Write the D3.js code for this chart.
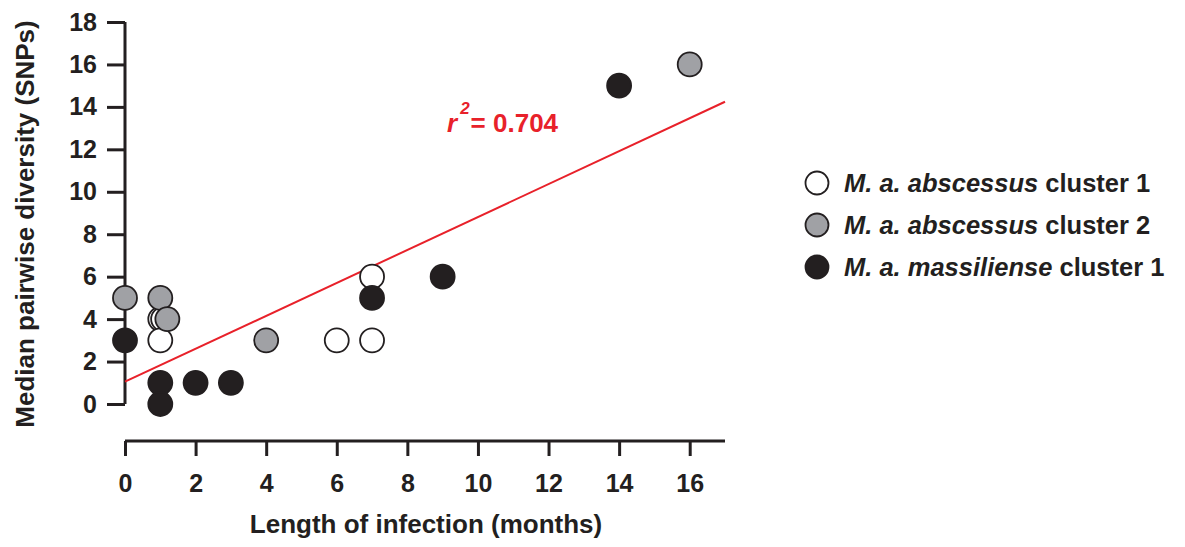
<!DOCTYPE html>
<html lang="en">
<head>
<meta charset="UTF-8">
<title>Median pairwise diversity vs length of infection</title>
<script src="https://d3js.org/d3.v7.min.js"></script>
<style>
    body { margin: 0; background: #fff; }
    svg { display: block; font-family: "Liberation Sans", Arial, sans-serif; }
    .axis path, .axis line { stroke: #231f20; stroke-width: 3px; }
    .axis text { font-size: 25px; font-weight: bold; fill: #231f20; }
    .title { font-size: 26px; font-weight: bold; fill: #231f20; }
    .legend text { font-size: 25.5px; font-weight: bold; fill: #231f20; }
</style>
</head>
<body>
<svg id="chart" width="1185" height="547"></svg>
<script>
    // data
    const cluster1 = [[1, 4], [1.08, 4], [1, 3], [6, 3], [7, 3], [7, 6]];
    const cluster2 = [[0, 5], [1, 5], [1.2, 4], [4, 3], [16, 16]];
    const massiliense = [[0, 3], [1, 1], [1, 0], [2, 1], [3, 1], [7, 5], [9, 6], [14, 15]];
    const xTicks = [0, 2, 4, 6, 8, 10, 12, 14, 16];
    const yTicks = [0, 2, 4, 6, 8, 10, 12, 14, 16, 18];
    const fit = { intercept: 1.05, slope: 0.776, r2: "0.704" };

    const groups = [
        { name: "abscessus", suffix: " cluster 1", fill: "#ffffff", data: cluster1 },
        { name: "abscessus", suffix: " cluster 2", fill: "#a0a1a5", data: cluster2 },
        { name: "massiliense", suffix: " cluster 1", fill: "#231f20", data: massiliense }
    ];

    const svg = d3.select("#chart");
    const x = d3.scaleLinear().domain([0, 17]).range([125, 725]);
    const y = d3.scaleLinear().domain([0, 18]).range([404, 22]);

    // y axis
    const yAxis = svg.append("g").attr("class", "axis")
        .attr("transform", "translate(125,0)")
        .call(d3.axisLeft(y).tickValues(yTicks).tickSize(18).tickSizeOuter(0).tickPadding(10));
    yAxis.select(".domain").attr("d", `M0,${y(18)}V${y(0)}`);

    // x axis, offset below the plot
    const xAxis = svg.append("g").attr("class", "axis")
        .attr("transform", "translate(0,441)")
        .call(d3.axisBottom(x).tickValues(xTicks).tickSize(15).tickSizeOuter(0).tickPadding(18));
    xAxis.select(".domain").attr("d", `M${x(0)},0H${x(17)}`);

    svg.append("text").attr("class", "title")
        .attr("x", 426).attr("y", 533).attr("text-anchor", "middle")
        .text("Length of infection (months)");
    svg.append("text").attr("class", "title")
        .attr("transform", `translate(34,224) rotate(-90)`)
        .attr("text-anchor", "middle")
        .text("Median pairwise diversity (SNPs)");

    // regression line
    svg.append("line")
        .attr("x1", x(0)).attr("y1", y(fit.intercept))
        .attr("x2", x(17)).attr("y2", y(fit.intercept + fit.slope * 17))
        .attr("stroke", "#e8212a").attr("stroke-width", 2);

    const r2 = svg.append("text")
        .attr("x", 447).attr("y", 132)
        .attr("fill", "#e8212a").attr("font-size", 26).attr("font-weight", "bold");
    r2.append("tspan").attr("font-style", "italic").text("r");
    r2.append("tspan").attr("dx", 3).attr("dy", -18)
        .style("font-size", "17px").attr("font-style", "italic").text("2");
    r2.append("tspan").attr("dx", 1).attr("dy", 18).text("= " + fit.r2);

    // points
    groups.forEach(g => {
        svg.append("g").selectAll("circle")
            .data(g.data)
            .join("circle")
            .attr("cx", d => x(d[0]))
            .attr("cy", d => y(d[1]))
            .attr("r", 12)
            .attr("fill", g.fill)
            .attr("stroke", "#231f20")
            .attr("stroke-width", 1.8);
    });

    // legend
    const legend = svg.append("g").attr("class", "legend")
        .attr("transform", "translate(817,183)");
    const item = legend.selectAll("g").data(groups).join("g")
        .attr("transform", (d, i) => `translate(0,${i * 42})`);
    item.append("circle").attr("r", 11.5)
        .attr("fill", d => d.fill).attr("stroke", "#231f20").attr("stroke-width", 1.8);
    const label = item.append("text").attr("x", 27).attr("dy", "0.35em");
    label.append("tspan").attr("font-style", "italic").text(d => "M. a. " + d.name);
    label.append("tspan").text(d => d.suffix);
</script>
</body>
</html>
